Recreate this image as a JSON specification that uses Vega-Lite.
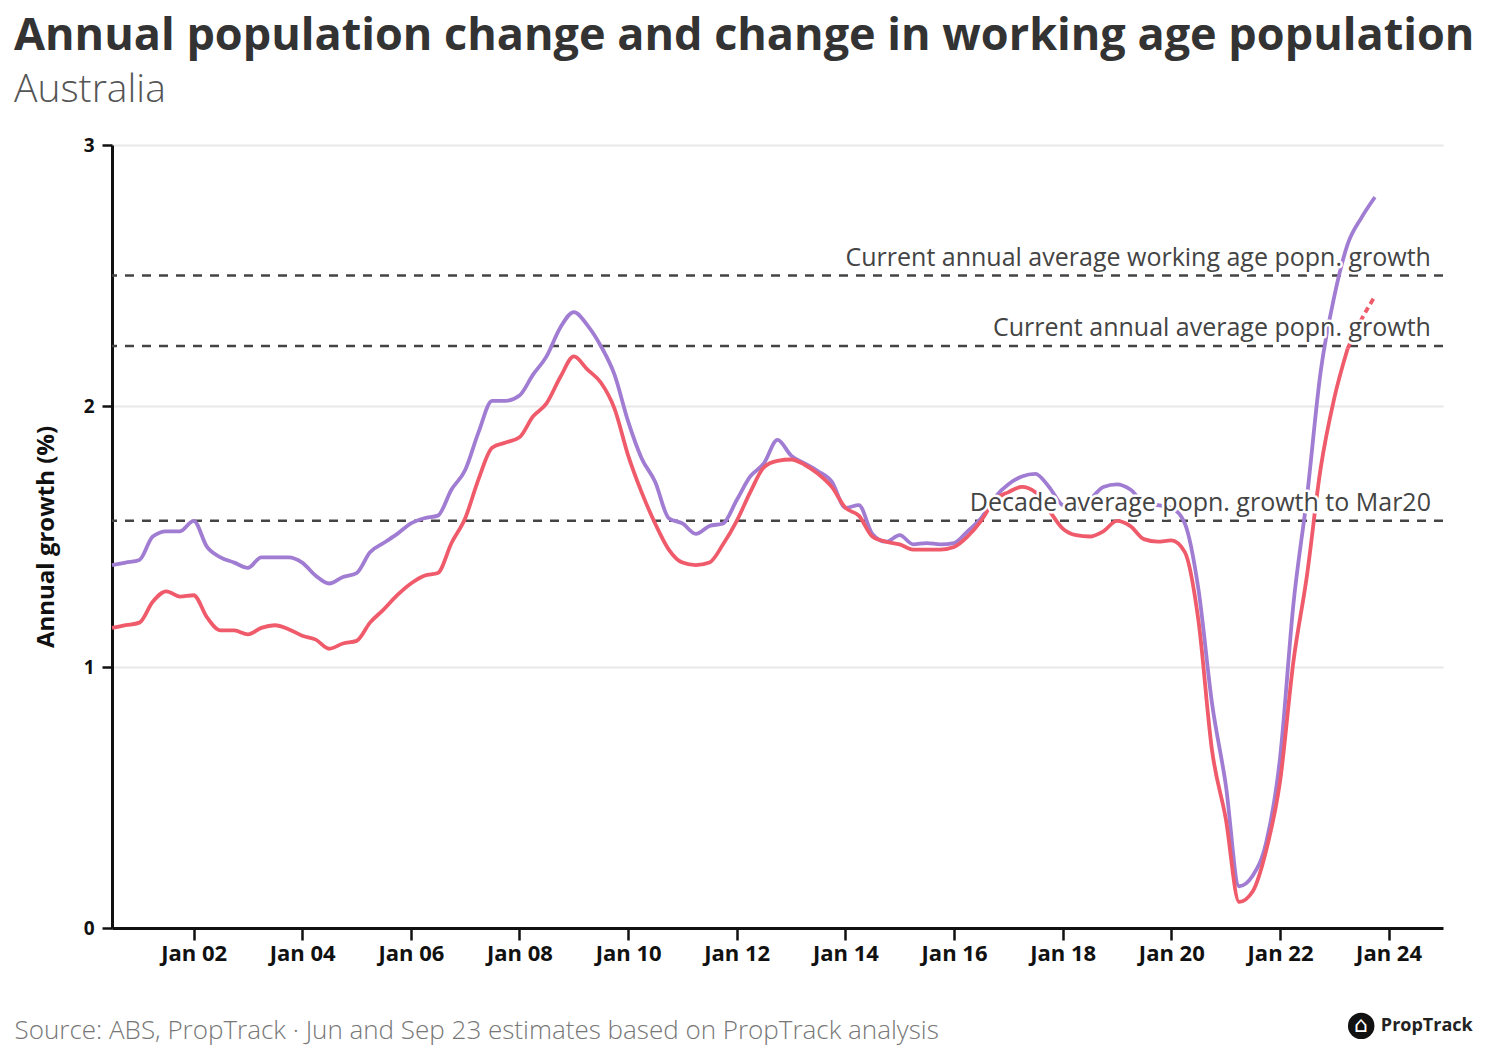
{
  "$schema": "https://vega.github.io/schema/vega-lite/v6.json",
  "width": 1331,
  "height": 783,
  "autosize": {"type": "none"},
  "padding": {"left": 112, "top": 145, "right": 57, "bottom": 133},
  "background": "white",
  "config": {"view": {"stroke": null}, "font": "Open Sans"},
  "title": {
    "text": "Annual population change and change in working age population",
    "subtitle": "Australia",
    "anchor": "start",
    "frame": "group",
    "dx": -98,
    "offset": 26,
    "font": "Open Sans",
    "fontSize": 45,
    "fontWeight": "bold",
    "color": "#333333",
    "subtitleFont": "Open Sans",
    "subtitleFontSize": 39,
    "subtitleFontWeight": 300,
    "subtitleColor": "#555555",
    "subtitlePadding": 12
  },
  "datasets": {
    "series": [
      {"d": "2000-07-01", "pop": 1.15, "wap": 1.39, "est": false},
      {"d": "2000-10-01", "pop": 1.16, "wap": 1.40, "est": false},
      {"d": "2001-01-01", "pop": 1.17, "wap": 1.41, "est": false},
      {"d": "2001-04-01", "pop": 1.25, "wap": 1.50, "est": false},
      {"d": "2001-07-01", "pop": 1.29, "wap": 1.52, "est": false},
      {"d": "2001-10-01", "pop": 1.27, "wap": 1.52, "est": false},
      {"d": "2002-01-01", "pop": 1.275, "wap": 1.56, "est": false},
      {"d": "2002-04-01", "pop": 1.19, "wap": 1.46, "est": false},
      {"d": "2002-07-01", "pop": 1.14, "wap": 1.42, "est": false},
      {"d": "2002-10-01", "pop": 1.14, "wap": 1.40, "est": false},
      {"d": "2003-01-01", "pop": 1.125, "wap": 1.38, "est": false},
      {"d": "2003-04-01", "pop": 1.15, "wap": 1.42, "est": false},
      {"d": "2003-07-01", "pop": 1.16, "wap": 1.42, "est": false},
      {"d": "2003-10-01", "pop": 1.145, "wap": 1.42, "est": false},
      {"d": "2004-01-01", "pop": 1.12, "wap": 1.40, "est": false},
      {"d": "2004-04-01", "pop": 1.105, "wap": 1.35, "est": false},
      {"d": "2004-07-01", "pop": 1.07, "wap": 1.32, "est": false},
      {"d": "2004-10-01", "pop": 1.09, "wap": 1.345, "est": false},
      {"d": "2005-01-01", "pop": 1.10, "wap": 1.36, "est": false},
      {"d": "2005-04-01", "pop": 1.17, "wap": 1.44, "est": false},
      {"d": "2005-07-01", "pop": 1.22, "wap": 1.475, "est": false},
      {"d": "2005-10-01", "pop": 1.275, "wap": 1.51, "est": false},
      {"d": "2006-01-01", "pop": 1.32, "wap": 1.55, "est": false},
      {"d": "2006-04-01", "pop": 1.35, "wap": 1.57, "est": false},
      {"d": "2006-07-01", "pop": 1.36, "wap": 1.58, "est": false},
      {"d": "2006-10-01", "pop": 1.475, "wap": 1.68, "est": false},
      {"d": "2007-01-01", "pop": 1.57, "wap": 1.755, "est": false},
      {"d": "2007-04-01", "pop": 1.72, "wap": 1.90, "est": false},
      {"d": "2007-07-01", "pop": 1.84, "wap": 2.02, "est": false},
      {"d": "2007-10-01", "pop": 1.86, "wap": 2.02, "est": false},
      {"d": "2008-01-01", "pop": 1.88, "wap": 2.04, "est": false},
      {"d": "2008-04-01", "pop": 1.96, "wap": 2.12, "est": false},
      {"d": "2008-07-01", "pop": 2.01, "wap": 2.19, "est": false},
      {"d": "2008-10-01", "pop": 2.11, "wap": 2.30, "est": false},
      {"d": "2009-01-01", "pop": 2.19, "wap": 2.36, "est": false},
      {"d": "2009-04-01", "pop": 2.14, "wap": 2.31, "est": false},
      {"d": "2009-07-01", "pop": 2.09, "wap": 2.23, "est": false},
      {"d": "2009-10-01", "pop": 1.99, "wap": 2.12, "est": false},
      {"d": "2010-01-01", "pop": 1.81, "wap": 1.94, "est": false},
      {"d": "2010-04-01", "pop": 1.67, "wap": 1.80, "est": false},
      {"d": "2010-07-01", "pop": 1.55, "wap": 1.71, "est": false},
      {"d": "2010-10-01", "pop": 1.45, "wap": 1.57, "est": false},
      {"d": "2011-01-01", "pop": 1.40, "wap": 1.55, "est": false},
      {"d": "2011-04-01", "pop": 1.39, "wap": 1.51, "est": false},
      {"d": "2011-07-01", "pop": 1.40, "wap": 1.54, "est": false},
      {"d": "2011-10-01", "pop": 1.47, "wap": 1.55, "est": false},
      {"d": "2012-01-01", "pop": 1.56, "wap": 1.64, "est": false},
      {"d": "2012-04-01", "pop": 1.67, "wap": 1.73, "est": false},
      {"d": "2012-07-01", "pop": 1.765, "wap": 1.78, "est": false},
      {"d": "2012-10-01", "pop": 1.79, "wap": 1.87, "est": false},
      {"d": "2013-01-01", "pop": 1.795, "wap": 1.81, "est": false},
      {"d": "2013-04-01", "pop": 1.775, "wap": 1.78, "est": false},
      {"d": "2013-07-01", "pop": 1.74, "wap": 1.75, "est": false},
      {"d": "2013-10-01", "pop": 1.69, "wap": 1.71, "est": false},
      {"d": "2014-01-01", "pop": 1.61, "wap": 1.61, "est": false},
      {"d": "2014-04-01", "pop": 1.58, "wap": 1.62, "est": false},
      {"d": "2014-07-01", "pop": 1.50, "wap": 1.51, "est": false},
      {"d": "2014-10-01", "pop": 1.48, "wap": 1.48, "est": false},
      {"d": "2015-01-01", "pop": 1.47, "wap": 1.505, "est": false},
      {"d": "2015-04-01", "pop": 1.45, "wap": 1.47, "est": false},
      {"d": "2015-07-01", "pop": 1.45, "wap": 1.475, "est": false},
      {"d": "2015-10-01", "pop": 1.45, "wap": 1.47, "est": false},
      {"d": "2016-01-01", "pop": 1.46, "wap": 1.475, "est": false},
      {"d": "2016-04-01", "pop": 1.50, "wap": 1.52, "est": false},
      {"d": "2016-07-01", "pop": 1.56, "wap": 1.57, "est": false},
      {"d": "2016-10-01", "pop": 1.64, "wap": 1.65, "est": false},
      {"d": "2017-01-01", "pop": 1.67, "wap": 1.70, "est": false},
      {"d": "2017-04-01", "pop": 1.69, "wap": 1.73, "est": false},
      {"d": "2017-07-01", "pop": 1.67, "wap": 1.74, "est": false},
      {"d": "2017-10-01", "pop": 1.60, "wap": 1.69, "est": false},
      {"d": "2018-01-01", "pop": 1.53, "wap": 1.62, "est": false},
      {"d": "2018-04-01", "pop": 1.505, "wap": 1.61, "est": false},
      {"d": "2018-07-01", "pop": 1.50, "wap": 1.64, "est": false},
      {"d": "2018-10-01", "pop": 1.52, "wap": 1.69, "est": false},
      {"d": "2019-01-01", "pop": 1.56, "wap": 1.70, "est": false},
      {"d": "2019-04-01", "pop": 1.54, "wap": 1.68, "est": false},
      {"d": "2019-07-01", "pop": 1.49, "wap": 1.63, "est": false},
      {"d": "2019-10-01", "pop": 1.48, "wap": 1.62, "est": false},
      {"d": "2020-01-01", "pop": 1.485, "wap": 1.61, "est": false},
      {"d": "2020-04-01", "pop": 1.44, "wap": 1.55, "est": false},
      {"d": "2020-07-01", "pop": 1.18, "wap": 1.30, "est": false},
      {"d": "2020-10-01", "pop": 0.68, "wap": 0.86, "est": false},
      {"d": "2021-01-01", "pop": 0.42, "wap": 0.55, "est": false},
      {"d": "2021-04-01", "pop": 0.10, "wap": 0.16, "est": false},
      {"d": "2021-07-01", "pop": 0.14, "wap": 0.20, "est": false},
      {"d": "2021-10-01", "pop": 0.30, "wap": 0.33, "est": false},
      {"d": "2022-01-01", "pop": 0.56, "wap": 0.65, "est": false},
      {"d": "2022-04-01", "pop": 1.02, "wap": 1.24, "est": false},
      {"d": "2022-07-01", "pop": 1.35, "wap": 1.65, "est": false},
      {"d": "2022-10-01", "pop": 1.76, "wap": 2.13, "est": false},
      {"d": "2023-01-01", "pop": 2.03, "wap": 2.42, "est": false},
      {"d": "2023-04-01", "pop": 2.22, "wap": 2.62, "est": false},
      {"d": "2023-07-01", "pop": 2.33, "wap": 2.72, "est": true},
      {"d": "2023-10-01", "pop": 2.42, "wap": 2.80, "est": true}
    ],
    "refs": [
      {"v": 2.5, "label": "Current annual average working age popn. growth"},
      {"v": 2.23, "label": "Current annual average popn. growth"},
      {"v": 1.56, "label": "Decade average popn. growth to Mar20"}
    ]
  },
  "layer": [
    {
      "data": {"name": "refs"},
      "mark": {"type": "rule", "color": "#444444", "strokeWidth": 2.5, "strokeDash": [9, 8]},
      "encoding": {
        "y": {"field": "v", "type": "quantitative", "scale": {"domain": [0, 3]}}
      }
    },
    {
      "data": {"name": "series"},
      "mark": {"type": "line", "color": "#a07cd2", "strokeWidth": 3.8, "interpolate": "monotone"},
      "encoding": {
        "x": {
          "field": "d",
          "type": "temporal",
          "scale": {"domain": [{"year": 2000, "month": 7, "date": 1}, {"year": 2025, "month": 1, "date": 1}]},
          "axis": {
            "title": "Source: ABS, PropTrack · Jun and Sep 23 estimates based on PropTrack analysis",
            "titleAnchor": "start",
            "titleAlign": "left",
            "titleBaseline": "alphabetic",
            "titleX": -98,
            "titleY": 110,
            "titleFont": "Open Sans",
            "titleFontSize": 26,
            "titleFontWeight": 300,
            "titleColor": "#777777",
            "format": "%b %y",
            "tickCount": {"interval": "year", "step": 2},
            "labelFont": "Open Sans",
            "labelFontSize": 22,
            "labelFontWeight": "bold",
            "labelColor": "#111111",
            "labelPadding": 3,
            "labelFlush": false,
            "tickColor": "#111111",
            "tickSize": 12,
            "tickWidth": 2.5,
            "domainColor": "#111111",
            "domainWidth": 3,
            "grid": false
          }
        },
        "y": {
          "field": "wap",
          "type": "quantitative",
          "scale": {"domain": [0, 3]},
          "axis": {
            "title": "Annual growth (%)",
            "titleFont": "Open Sans",
            "titleFontSize": 24,
            "titleFontWeight": "bold",
            "titleColor": "#111111",
            "titlePadding": 25,
            "values": [0, 1, 2, 3],
            "format": "d",
            "labelFont": "Open Sans",
            "labelFontSize": 19,
            "labelFontWeight": "bold",
            "labelColor": "#111111",
            "labelPadding": 8,
            "tickColor": "#111111",
            "tickSize": 10,
            "tickWidth": 2.5,
            "domainColor": "#111111",
            "domainWidth": 3,
            "grid": true,
            "gridColor": "#e8e8e8",
            "gridWidth": 2
          }
        }
      }
    },
    {
      "data": {"name": "series"},
      "transform": [{"filter": "!datum.est"}],
      "mark": {"type": "line", "color": "#ef5b6a", "strokeWidth": 3.8, "interpolate": "monotone"},
      "encoding": {
        "x": {"field": "d", "type": "temporal"},
        "y": {"field": "pop", "type": "quantitative"}
      }
    },
    {
      "data": {"name": "series"},
      "transform": [{"filter": {"field": "d", "gte": {"year": 2023, "month": 4, "date": 1}}}],
      "mark": {"type": "line", "color": "#ef5b6a", "strokeWidth": 3.8, "interpolate": "monotone", "strokeDash": [6, 4]},
      "encoding": {
        "x": {"field": "d", "type": "temporal"},
        "y": {"field": "pop", "type": "quantitative"}
      }
    },
    {
      "data": {"name": "refs"},
      "mark": {"type": "text", "align": "right", "baseline": "alphabetic", "dy": -10, "font": "Open Sans", "fontSize": 25, "fill": "#444444", "stroke": "white", "strokeWidth": 5, "strokeJoin": "round"},
      "encoding": {
        "x": {"datum": {"year": 2024, "month": 10, "date": 12}, "type": "temporal"},
        "y": {"field": "v", "type": "quantitative"},
        "text": {"field": "label"}
      }
    },
    {
      "data": {"name": "refs"},
      "mark": {"type": "text", "align": "right", "baseline": "alphabetic", "dy": -10, "font": "Open Sans", "fontSize": 25, "fill": "#444444"},
      "encoding": {
        "x": {"datum": {"year": 2024, "month": 10, "date": 12}, "type": "temporal"},
        "y": {"field": "v", "type": "quantitative"},
        "text": {"field": "label"}
      }
    },
    {
      "data": {"values": [{"brand": "PropTrack"}]},
      "mark": {"type": "point", "shape": "circle", "filled": true, "color": "#111111", "size": 700, "opacity": 1},
      "encoding": {
        "x": {"datum": {"year": 2023, "month": 7, "date": 1}, "type": "temporal"},
        "y": {"datum": -0.375, "type": "quantitative"}
      }
    },
    {
      "data": {"values": [{"brand": "PropTrack"}]},
      "mark": {"type": "text", "align": "center", "baseline": "middle", "font": "DejaVu Sans", "fontSize": 22, "fill": "white"},
      "encoding": {
        "x": {"datum": {"year": 2023, "month": 7, "date": 1}, "type": "temporal"},
        "y": {"datum": -0.37, "type": "quantitative"},
        "text": {"value": "⌂"}
      }
    },
    {
      "data": {"values": [{"brand": "PropTrack"}]},
      "mark": {"type": "text", "align": "left", "baseline": "middle", "font": "Open Sans", "fontSize": 18, "fontWeight": "bold", "fill": "#222222"},
      "encoding": {
        "x": {"datum": {"year": 2023, "month": 11, "date": 10}, "type": "temporal"},
        "y": {"datum": -0.375, "type": "quantitative"},
        "text": {"field": "brand"}
      }
    }
  ]
}
